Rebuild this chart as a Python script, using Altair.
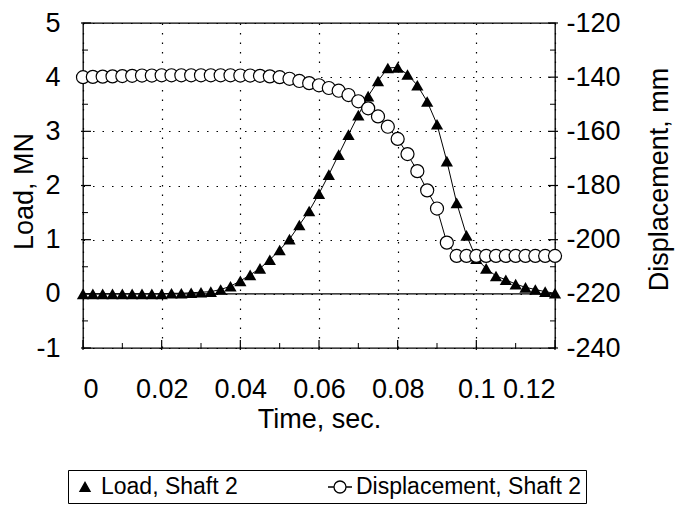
import altair as alt
import pandas as pd

# ---------------- data ----------------
TIME = [0.0, 0.0025, 0.005, 0.0075, 0.01, 0.0125, 0.015, 0.0175, 0.02, 0.0225,
        0.025, 0.0275, 0.03, 0.0325, 0.035, 0.0375, 0.04, 0.0425, 0.045, 0.0475,
        0.05, 0.0525, 0.055, 0.0575, 0.06, 0.0625, 0.065, 0.0675, 0.07, 0.0725,
        0.075, 0.0775, 0.08, 0.0825, 0.085, 0.0875, 0.09, 0.0925, 0.095, 0.0975,
        0.1, 0.1025, 0.105, 0.1075, 0.11, 0.1125, 0.115, 0.1175, 0.12]

LOAD = [0.0, 0.0, 0.0, 0.0, 0.0, 0.0, 0.0, 0.0, 0.0, 0.01,
        0.01, 0.02, 0.03, 0.04, 0.08, 0.14, 0.24, 0.35, 0.47, 0.63,
        0.81, 1.01, 1.27, 1.53, 1.85, 2.2, 2.57, 2.94, 3.3, 3.65,
        3.93, 4.17, 4.18, 4.05, 3.85, 3.55, 3.13, 2.45, 1.68, 1.08,
        0.65, 0.47, 0.33, 0.26, 0.18, 0.12, 0.08, 0.04, 0.01]

DISP = [-140.0, -139.9, -139.8, -139.7, -139.6, -139.5, -139.4, -139.4, -139.3, -139.3,
        -139.3, -139.3, -139.3, -139.3, -139.3, -139.3, -139.4, -139.4, -139.5, -139.7,
        -140.0, -140.6, -141.4, -142.2, -143.0, -144.0, -145.0, -146.6, -148.9, -151.5,
        -154.5, -158.3, -162.8, -168.4, -174.7, -181.8, -188.5, -201.1, -206.0, -206.0,
        -206.0, -206.0, -206.0, -206.0, -206.0, -206.0, -206.0, -206.0, -206.0]

X_TICKS = [0, 0.02, 0.04, 0.06, 0.08, 0.1, 0.12]
X_MINOR = [0.01, 0.03, 0.05, 0.07, 0.09, 0.11]
LOAD_TICKS = [-1, 0, 1, 2, 3, 4, 5]
LOAD_MINOR = [-0.5, 0.5, 1.5, 2.5, 3.5, 4.5]
DISP_TICKS = [-240, -220, -200, -180, -160, -140, -120]
DISP_MINOR = [-230, -210, -190, -170, -150, -130]
ZERO = [0]
SERIES = ["Load, Shaft 2", "Displacement, Shaft 2"]

# ---------------- layout / style ----------------
W, H = 472, 325
FONT = "Liberation Sans"
TRI_PATH = "M0,-0.38L0.42,0.36L-0.42,0.36Z"
CIRC_PATH = ("M-1,0L-0.5,0M0.5,0L1,0M0.5,0"
             "A0.5,0.5,0,1,1,-0.5,0A0.5,0.5,0,1,1,0.5,0Z")

df = pd.DataFrame({"t": TIME, "load": LOAD, "disp": DISP})
xt_major = pd.DataFrame({"t": X_TICKS})
xt_minor = pd.DataFrame({"t": X_MINOR})
lt_major = pd.DataFrame({"load": LOAD_TICKS})
lt_minor = pd.DataFrame({"load": LOAD_MINOR})
dt_major = pd.DataFrame({"disp": DISP_TICKS})
dt_minor = pd.DataFrame({"disp": DISP_MINOR})
zero_df = pd.DataFrame({"load": ZERO})
leg_df = pd.DataFrame({"series": SERIES, "t": [TIME[0]] * 2, "load": [LOAD[0]] * 2})

xs = alt.Scale(domain=[0, 0.12], nice=False, zero=False)
ls = alt.Scale(domain=[-1, 5], nice=False, zero=False)
ds = alt.Scale(domain=[-240, -120], nice=False, zero=False)

x_axis = alt.Axis(values=X_TICKS, title="Time, sec.", labelExpr="'' + datum.value",
                  grid=True, labelPadding=28, titleBaseline="top", titleY=58,
                  titleX=W / 2, titleAlign="center")
l_axis = alt.Axis(values=LOAD_TICKS, title="Load, MN", labelExpr="'' + datum.value",
                  grid=True, labelPadding=23, titleAngle=270, titleBaseline="bottom",
                  titleX=-45, titleY=168, titleAlign="center")
d_axis = alt.Axis(values=DISP_TICKS, title="Displacement, mm", orient="right",
                  labelExpr="'' + datum.value", grid=False, labelPadding=11,
                  titleAngle=270, titleBaseline="top", titleX=91, titleY=156,
                  titleAlign="center")

X = alt.X("t:Q", scale=xs, axis=x_axis)
YL = alt.Y("load:Q", scale=ls, axis=l_axis)
YD = alt.Y("disp:Q", scale=ds, axis=d_axis)

zero_rule = alt.Chart(zero_df).mark_rule(color="black", strokeWidth=1.2).encode(y=YL)

xmaj = alt.Chart(xt_major).mark_rule(color="black", strokeWidth=1.2).encode(
    x=X, y=alt.value(H + 2), y2=alt.value(H - 8))
xmin = alt.Chart(xt_minor).mark_rule(color="black", strokeWidth=1.0).encode(
    x=X, y=alt.value(H + 1), y2=alt.value(H - 5))
lmaj = alt.Chart(lt_major).mark_rule(color="black", strokeWidth=1.2).encode(
    y=YL, x=alt.value(-2), x2=alt.value(8))
lmin = alt.Chart(lt_minor).mark_rule(color="black", strokeWidth=1.0).encode(
    y=YL, x=alt.value(-1), x2=alt.value(5))

load_line = alt.Chart(df).mark_line(color="black", strokeWidth=1).encode(x=X, y=YL)
load_pts = alt.Chart(df).mark_point(shape="triangle-up", filled=True, color="black",
                                    size=150, opacity=1).encode(x=X, y=YL)

legend = alt.Legend(title=None, orient="none", legendX=-15, legendY=447,
                    direction="horizontal", columns=2, columnPadding=87, padding=4,
                    strokeColor="black", fillColor="white", labelFont=FONT,
                    labelFontSize=23, labelColor="black", labelLimit=400,
                    labelOffset=3, symbolSize=576, symbolStrokeColor="black",
                    symbolStrokeWidth=1.3, cornerRadius=0)
leg_layer = alt.Chart(leg_df).mark_point(filled=True, strokeWidth=1.3,
                                         size=576, opacity=1).encode(
    x=X, y=YL,
    shape=alt.Shape("series:N", scale=alt.Scale(domain=SERIES, range=[TRI_PATH, CIRC_PATH]),
                    legend=legend),
    fill=alt.Fill("series:N", scale=alt.Scale(domain=SERIES, range=["black", "white"]),
                  legend=legend),
    stroke=alt.Stroke("series:N", scale=alt.Scale(domain=SERIES, range=["black", "black"]),
                      legend=legend),
).transform_filter("false")

rmaj = alt.Chart(dt_major).mark_rule(color="black", strokeWidth=1.2).encode(
    y=YD, x=alt.value(W + 3), x2=alt.value(W - 7))
rmin = alt.Chart(dt_minor).mark_rule(color="black", strokeWidth=1.0).encode(
    y=YD, x=alt.value(W + 1), x2=alt.value(W - 5))
disp_line = alt.Chart(df).mark_line(color="black", strokeWidth=1).encode(x=X, y=YD)
disp_pts = alt.Chart(df).mark_point(shape="circle", filled=True, fill="white",
                                    stroke="black", strokeWidth=1.2, size=170,
                                    opacity=1).encode(x=X, y=YD)

load_group = alt.layer(zero_rule, xmaj, xmin, lmaj, lmin, load_line, load_pts, leg_layer)
disp_group = alt.layer(rmaj, rmin, disp_line, disp_pts)

chart = alt.layer(load_group, disp_group).resolve_scale(y="independent").properties(
    width=W, height=H,
    autosize=alt.AutoSizeParams(type="none"),
    padding={"left": 83, "top": 23, "right": 682 - 83 - W, "bottom": 507 - 23 - H},
    background="white",
).configure_view(stroke="black", strokeWidth=1.3).configure_axis(
    domain=False, ticks=False, tickSize=0,
    labelFont=FONT, labelFontSize=27, labelColor="black",
    titleFont=FONT, titleFontSize=27, titleFontWeight="normal", titleColor="black",
    gridColor="black", gridDash=[1.5, 8], gridWidth=1.2, gridOpacity=1,
)

chart.save("out.html", embed_options={"renderer": "svg", "actions": False})
